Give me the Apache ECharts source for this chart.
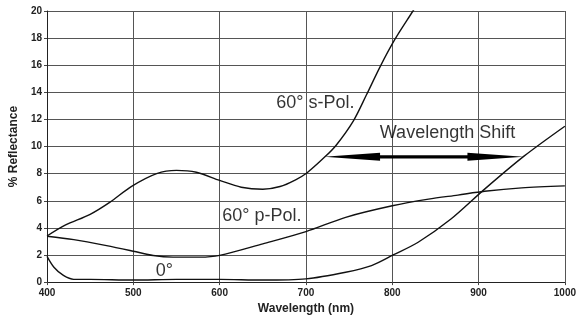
<!DOCTYPE html>
<html>
<head>
<meta charset="utf-8">
<script src="https://cdn.jsdelivr.net/npm/echarts@6/dist/echarts.min.js"></script>
<style>
  html, body { margin: 0; padding: 0; background: #fff; }
  #chart { width: 579px; height: 320px; }
</style>
</head>
<body>
<div id="chart"></div>
<script>
// Reflectance curves (wavelength in nm, reflectance in %)
const sPolNm = [400, 421, 450, 473, 498, 527, 550, 573, 600, 625, 650, 670, 688, 701, 722, 735, 755, 770, 786, 803, 824, 832];
const sPolR  = [3.4, 4.2, 5.0, 5.9, 7.06, 8.0, 8.24, 8.1, 7.5, 7.0, 6.85, 7.05, 7.55, 8.05, 9.24, 10.1, 11.9, 13.8, 15.9, 17.9, 20.0, 20.8];

const pPolNm = [400, 431, 469, 500, 523, 546, 577, 600, 650, 700, 746, 800, 842, 876, 907, 950, 1000];
const pPolR  = [3.38, 3.13, 2.69, 2.28, 1.96, 1.84, 1.84, 1.97, 2.82, 3.72, 4.78, 5.63, 6.12, 6.42, 6.7, 6.95, 7.1];

const normNm = [400, 408, 419, 431, 450, 500, 550, 600, 650, 700, 746, 776, 801, 830, 868, 907, 953, 1000];
const normR  = [1.9, 1.1, 0.49, 0.2, 0.2, 0.15, 0.2, 0.2, 0.15, 0.24, 0.73, 1.22, 2.0, 2.94, 4.65, 6.86, 9.31, 11.5];

// Double-headed "Wavelength Shift" arrow: start nm, end nm, level %
const shiftArrow = [721, 952, 9.24];

// Curve and arrow captions
const noteText = ['60° s-Pol.', '60° p-Pol.', '0°', 'Wavelength Shift'];
const noteNm   = [711, 649, 536, 864];
const noteR    = [13.2, 4.9, 0.8, 11.0];

const FONT = 'Liberation Sans, Arial, Helvetica, sans-serif';
const pairs = (xs, ys) => xs.map((x, i) => [x, ys[i]]);
const noteSizes = [18, 18, 18, 18];

const curveStyle = { color: '#111', width: 1.4 };

const chart = echarts.init(document.getElementById('chart'), null, { renderer: 'canvas' });
chart.setOption({
  animation: false,
  backgroundColor: '#fff',
  grid: { left: 47, right: 11, top: 11, bottom: 37 },
  xAxis: {
    type: 'value', min: 400, max: 1000, interval: 100,
    name: 'Wavelength (nm)', nameLocation: 'middle', nameGap: 11,
    nameTextStyle: { fontFamily: FONT, fontWeight: 'bold', fontSize: 12, color: '#222' },
    axisLine: { show: true, lineStyle: { color: '#222', width: 1 } },
    axisTick: { show: true, length: 3, lineStyle: { color: '#444' } },
    axisLabel: { fontFamily: FONT, fontWeight: 'bold', fontSize: 10, color: '#222', margin: 6,
                 formatter: v => String(v) },
    splitLine: { show: true, lineStyle: { color: '#555', width: 1 } }
  },
  yAxis: {
    type: 'value', min: 0, max: 20, interval: 2,
    name: '% Reflectance', nameLocation: 'middle', nameGap: 16, nameRotate: 90,
    nameTextStyle: { fontFamily: FONT, fontWeight: 'bold', fontSize: 12, color: '#222' },
    axisLine: { show: true, lineStyle: { color: '#222', width: 1 } },
    axisTick: { show: true, length: 3, lineStyle: { color: '#444' } },
    axisLabel: { fontFamily: FONT, fontWeight: 'bold', fontSize: 10, color: '#222', margin: 5 },
    splitLine: { show: true, lineStyle: { color: '#555', width: 1 } }
  },
  series: [
    { name: '60° s-Pol.', type: 'line', data: pairs(sPolNm, sPolR), smooth: 0.3,
      showSymbol: false, lineStyle: curveStyle, clip: true, silent: true },
    { name: '60° p-Pol.', type: 'line', data: pairs(pPolNm, pPolR), smooth: 0.3,
      showSymbol: false, lineStyle: curveStyle, clip: true, silent: true },
    { name: '0°', type: 'line', data: pairs(normNm, normR), smooth: 0.3,
      showSymbol: false, lineStyle: curveStyle, clip: true, silent: true },
    {
      name: 'Wavelength Shift', type: 'custom', silent: true,
      data: [shiftArrow],
      encode: { x: [0, 1], y: 2 },
      renderItem: function (params, api) {
        const a = api.coord([api.value(0), api.value(2)]);
        const b = api.coord([api.value(1), api.value(2)]);
        const head = 56, hw = 4, sw = 1.6;
        return {
          type: 'group',
          children: [
            { type: 'polygon', shape: { points: [[a[0] + head - 2, a[1] - sw], [b[0] - head + 2, b[1] - sw], [b[0] - head + 2, b[1] + sw], [a[0] + head - 2, a[1] + sw]] }, style: { fill: '#000' } },
            { type: 'polygon', shape: { points: [[a[0], a[1]], [a[0] + head, a[1] - hw], [a[0] + head, a[1] + hw]] }, style: { fill: '#000' } },
            { type: 'polygon', shape: { points: [[b[0], b[1]], [b[0] - head, b[1] - hw], [b[0] - head, b[1] + hw]] }, style: { fill: '#000' } }
          ]
        };
      }
    },
    {
      name: 'captions', type: 'scatter', silent: true, symbolSize: 0,
      data: noteText.map((t, i) => ({
        value: [noteNm[i], noteR[i]],
        label: { formatter: t, fontSize: noteSizes[i] }
      })),
      label: { show: true, position: 'inside', color: '#000', fontFamily: FONT }
    }
  ]
});
</script>
</body>
</html>
